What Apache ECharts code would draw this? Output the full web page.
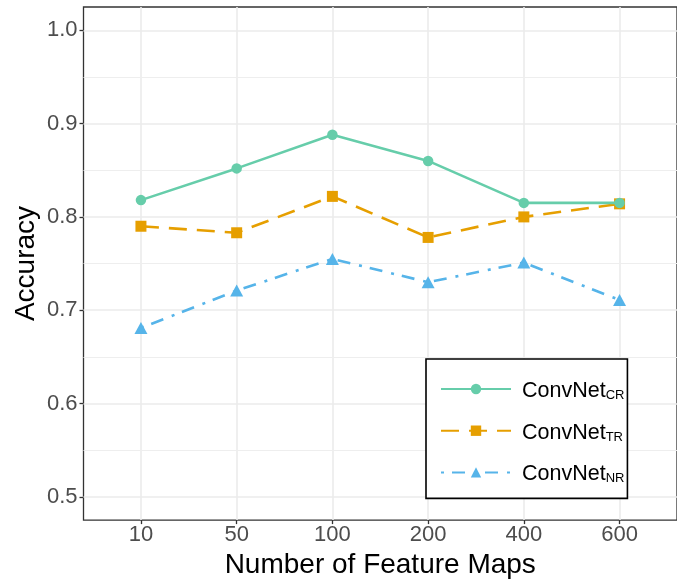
<!DOCTYPE html>
<html>
<head>
<meta charset="utf-8">
<script src="https://cdn.jsdelivr.net/npm/echarts@6/dist/echarts.min.js"></script>
<style>
html,body{margin:0;padding:0;background:#fff;}
#chart{width:677px;height:584px;}
</style>
</head>
<body>
<div id="chart"></div>
<script>
// ---- data ----
const categories = ['10', '50', '100', '200', '400', '600'];
const seriesNames = ['ConvNet_CR', 'ConvNet_TR', 'ConvNet_NR'];
const valuesCR = [0.818, 0.852, 0.888, 0.860, 0.815, 0.815];
const valuesTR = [0.790, 0.783, 0.822, 0.778, 0.800, 0.814];
const valuesNR = [0.681, 0.721, 0.755, 0.730, 0.751, 0.711];
const yTicks = [0.5, 0.6, 0.7, 0.8, 0.9, 1.0];
const yMinorTicks = [0.55, 0.65, 0.75, 0.85, 0.95];

const FONT = 'Liberation Sans, Arial, Helvetica, sans-serif';
const toPts = vals => vals.map((v, i) => [i, v]);
const catIdx = categories.map((c, i) => i);

const gridLineStyle = { color: '#EBEBEB', width: 1.6, type: 'solid' };
const gridMarks = [].concat(
  catIdx.map(i => ({ xAxis: i })),
  yTicks.map(v => ({ yAxis: v })),
  yMinorTicks.map(v => ({ yAxis: v, lineStyle: { width: 1.2, color: '#EEEEEE' } }))
);

const chart = echarts.init(document.getElementById('chart'), null, { renderer: 'canvas' });
chart.setOption({
  animation: false,
  backgroundColor: '#fff',
  textStyle: { fontFamily: FONT },
  grid: {
    left: 83.5, top: 7, right: -9, bottom: 61,
    show: true, borderColor: '#333333', borderWidth: 1.3, backgroundColor: 'transparent'
  },
  xAxis: {
    type: 'value', min: -0.6, max: 5.6,
    name: 'Number of Feature Maps', nameLocation: 'middle', nameGap: 26,
    nameTextStyle: { fontSize: 28, color: '#000', fontFamily: FONT },
    axisLine: { show: false, onZero: false },
    splitLine: { show: false },
    axisTick: { show: true, length: 4, customValues: catIdx, lineStyle: { color: '#333', width: 1.3 } },
    axisLabel: {
      customValues: catIdx, margin: 4, fontSize: 22, color: '#4D4D4D', fontFamily: FONT,
      formatter: v => categories[Math.round(v)]
    }
  },
  yAxis: {
    type: 'value', min: 0.475, max: 1.025,
    name: 'Accuracy', nameLocation: 'middle', nameGap: 43, nameRotate: 90,
    nameMoveOverlap: false,
    nameTextStyle: { fontSize: 28, color: '#000', fontFamily: FONT },
    axisLine: { show: false, onZero: false },
    splitLine: { show: false },
    axisTick: { show: true, length: 4, customValues: yTicks, lineStyle: { color: '#333', width: 1.3 } },
    axisLabel: {
      customValues: yTicks, margin: 6, fontSize: 22, color: '#4D4D4D', fontFamily: FONT,
      formatter: v => v.toFixed(1)
    }
  },
  legend: {
    data: seriesNames,
    orient: 'vertical',
    left: 426, top: 359,
    padding: [21, 3, 13, 14],
    itemGap: 19.7,
    itemWidth: 70, itemHeight: 13,
    borderColor: '#000', borderWidth: 1.6, backgroundColor: '#fff',
    formatter: name => {
      const p = name.split('_');
      return '{a|' + p[0] + '}{b|' + p[1] + '}';
    },
    textStyle: {
      rich: {
        a: { fontSize: 21.5, lineHeight: 26, color: '#000', fontFamily: FONT, verticalAlign: 'bottom', padding: [0, 0, 0, 6] },
        b: { fontSize: 13, lineHeight: 10, color: '#000', fontFamily: FONT, verticalAlign: 'bottom' }
      }
    }
  },
  series: [
    {
      name: 'grid', type: 'line', data: [], silent: true, z: 1,
      markLine: {
        silent: true, z: 1, symbol: ['none', 'none'], label: { show: false },
        lineStyle: gridLineStyle, data: gridMarks, animation: false
      }
    },
    {
      name: seriesNames[0], type: 'line', data: toPts(valuesCR), z: 12,
      symbol: 'circle', symbolSize: 10.5,
      lineStyle: { color: '#66CDAA', width: 2.6, type: 'solid' },
      itemStyle: { color: '#66CDAA', borderWidth: 0 }
    },
    {
      name: seriesNames[1], type: 'line', data: toPts(valuesTR), z: 11,
      symbol: 'rect', symbolSize: 11,
      lineStyle: { color: '#E69F00', width: 2.6, type: [18, 10], cap: 'butt' },
      itemStyle: { color: '#E69F00', borderWidth: 0 }
    },
    {
      name: seriesNames[2], type: 'line', data: toPts(valuesNR), z: 10,
      symbol: 'triangle', symbolSize: [13, 12],
      lineStyle: { color: '#56B4E9', width: 2.6, type: [3, 8, 13, 9], cap: 'butt' },
      itemStyle: { color: '#56B4E9', borderWidth: 0 }
    }
  ]
});
</script>
</body>
</html>
